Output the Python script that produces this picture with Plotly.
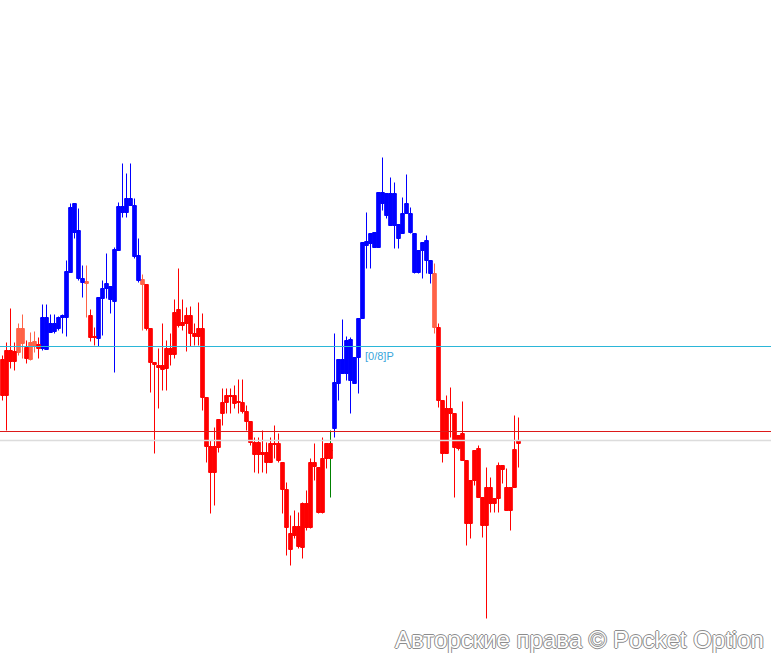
import plotly.graph_objects as go

# candle colour group per bar: B = blue trend, R = red trend, S = salmon (transition)
colors = (
    "RRRRSSRSSR" "BBBBBBBBBB" "BSRRBBBBBB" "BBBBBSRRRR"
    "RRRRRRRRRR" "RRRRRRRRRR" "RRRRRRRRRR" "RRRRRRRRRR"
    "RRRBBBBBBB" "BBBBBBBBBB" "BBBBBBBBSR" "RRRRRRRRRR"
    "RRRRRRRRRR"
)

opens = [
    341, 350, 350, 349, 372, 372, 353, 358, 359, 356,
    352, 351, 368, 369, 372, 383, 383, 428, 468, 422,
    418, 419, 385, 364, 362, 402, 412, 401, 399, 450,
    488, 488, 495, 444, 420, 421, 416, 372, 338, 335,
    335, 352, 352, 388, 391, 378, 385, 385, 367, 372,
    372, 303, 254, 254, 281, 298, 305, 305, 305, 299,
    298, 289, 279, 258, 258, 248, 248, 257, 257, 257,
    238, 211, 167, 174, 174, 197, 197, 238, 238, 233,
    242, 257, 257, 272, 317, 327, 327, 320, 317, 343,
    382, 455, 457, 453, 453, 497, 485, 475, 475, 462,
    467, 487, 468, 428, 428, 450, 440, 427, 427, 373,
    300, 292, 292, 287, 265, 267, 240, 220, 250, 252,
    203, 213, 213, 202, 235, 235, 213, 213, 251, 260,
]
highs = [
    345, 358, 392, 358, 377, 386, 360, 368, 369, 363,
    396, 396, 386, 386, 384, 386, 440, 497, 497, 492,
    435, 435, 391, 373, 403, 420, 447, 414, 453, 498,
    537, 527, 537, 502, 462, 426, 416, 372, 338, 352,
    377, 360, 367, 401, 432, 401, 393, 394, 377, 398,
    387, 303, 260, 273, 281, 312, 312, 312, 315, 321,
    321, 295, 279, 263, 263, 270, 258, 263, 275, 267,
    238, 218, 185, 190, 188, 198, 210, 242, 257, 233,
    263, 257, 257, 367, 341, 381, 364, 363, 343, 382,
    458, 488, 467, 468, 508, 543, 507, 523, 518, 476,
    503, 526, 493, 467, 450, 458, 465, 440, 437, 377,
    300, 305, 313, 287, 265, 299, 240, 220, 250, 255,
    203, 233, 223, 202, 238, 235, 232, 213, 285, 283,
]
lows = [
    300, 270, 332, 330, 345, 342, 337, 340, 348, 342,
    350, 351, 368, 367, 370, 367, 364, 428, 462, 420,
    403, 383, 359, 355, 354, 365, 402, 387, 328, 450,
    483, 483, 495, 442, 418, 370, 370, 308, 247, 292,
    310, 310, 335, 342, 373, 370, 349, 354, 355, 355,
    290, 238, 187, 195, 248, 275, 287, 287, 292, 287,
    287, 270, 255, 228, 227, 228, 227, 238, 242, 238,
    187, 145, 135, 162, 152, 142, 170, 172, 220, 187,
    187, 232, 242, 263, 300, 327, 320, 287, 317, 307,
    382, 432, 432, 453, 453, 490, 482, 475, 452, 452,
    467, 487, 467, 427, 427, 422, 427, 417, 367, 293,
    238, 247, 263, 203, 250, 240, 155, 162, 215, 203,
    163, 82, 188, 188, 188, 217, 190, 170, 213, 233,
]
closes = [
    305, 305, 339, 339, 348, 357, 342, 341, 355, 352,
    383, 383, 377, 377, 383, 385, 429, 493, 497, 470,
    422, 417, 363, 363, 403, 412, 417, 414, 451, 494,
    494, 502, 502, 495, 445, 416, 372, 338, 336, 333,
    331, 332, 346, 346, 375, 375, 377, 367, 364, 364,
    303, 254, 228, 228, 253, 287, 298, 304, 297, 298,
    289, 279, 258, 246, 246, 246, 238, 238, 256, 240,
    211, 173, 151, 165, 154, 153, 173, 173, 234, 188,
    188, 242, 242, 318, 341, 341, 360, 361, 343, 382,
    458, 459, 467, 468, 508, 508, 507, 507, 507, 476,
    487, 497, 487, 467, 450, 458, 460, 440, 373, 300,
    247, 247, 287, 253, 252, 240, 177, 177, 220, 203,
    175, 175, 197, 197, 202, 231, 190, 190, 213, 257,
]

# thin green doji hidden behind the red bar at index 82
doji_x = [82]
doji_ohlc = [250, 270, 203, 250]

pivot_level = 354      # cyan "[0/8]P" line
red_level = 269
grey_level = 260
pivot_label_x = 90

palette = {"B": "#0000ff", "R": "#ff0000", "S": "#ff6347"}

fig = go.Figure()

fig.add_trace(
    go.Candlestick(
        x=doji_x,
        open=[doji_ohlc[0]],
        high=[doji_ohlc[1]],
        low=[doji_ohlc[2]],
        close=[doji_ohlc[3]],
        increasing={"line": {"color": "#008000", "width": 1}, "fillcolor": "#008000"},
        decreasing={"line": {"color": "#008000", "width": 1}, "fillcolor": "#008000"},
        hoverinfo="skip",
    )
)

for key in ["S", "B", "R"]:
    idx = [i for i, c in enumerate(colors) if c == key]
    col = palette[key]
    fig.add_trace(
        go.Candlestick(
            x=idx,
            open=[opens[i] for i in idx],
            high=[highs[i] for i in idx],
            low=[lows[i] for i in idx],
            close=[closes[i] for i in idx],
            increasing={"line": {"color": col, "width": 1}, "fillcolor": col},
            decreasing={"line": {"color": col, "width": 1}, "fillcolor": col},
            hoverinfo="skip",
        )
    )

fig.add_hline(y=grey_level, line_color="#dcdcdc", line_width=1.5)
fig.add_hline(y=red_level, line_color="#dd1a1a", line_width=1.2)
fig.add_hline(y=pivot_level, line_color="#2bb6d8", line_width=1)

fig.add_annotation(
    x=pivot_label_x,
    y=pivot_level,
    text="[0/8]P",
    showarrow=False,
    xanchor="left",
    yanchor="top",
    yshift=-1,
    font={"family": "Liberation Sans, Arial", "size": 11, "color": "#3aa6dc"},
)

fig.add_annotation(
    xref="paper",
    yref="paper",
    x=0.993,
    y=0.02,
    text="Авторские права © Pocket Option",
    showarrow=False,
    xanchor="right",
    yanchor="middle",
    font={
        "family": "Liberation Sans, Arial",
        "size": 24,
        "color": "#ffffff",
        "shadow": "1px 0 0 #8c8c8c, -1px 0 0 #8c8c8c, 0 1px 0 #8c8c8c, 0 -1px 0 #8c8c8c",
    },
)

fig.update_layout(
    width=771,
    height=653,
    margin={"l": 0, "r": 0, "t": 0, "b": 0},
    paper_bgcolor="white",
    plot_bgcolor="white",
    showlegend=False,
    boxgap=0.1,
    boxgroupgap=0,
    xaxis={"visible": False, "range": [-0.625, 192.125], "rangeslider": {"visible": False}},
    yaxis={"visible": False, "range": [47.5, 700.5]},
)

fig.write_html(
    "out.html",
    config={"displayModeBar": False},
    post_script="document.body.style.margin = '0'; document.body.style.overflow = 'hidden';",
)
